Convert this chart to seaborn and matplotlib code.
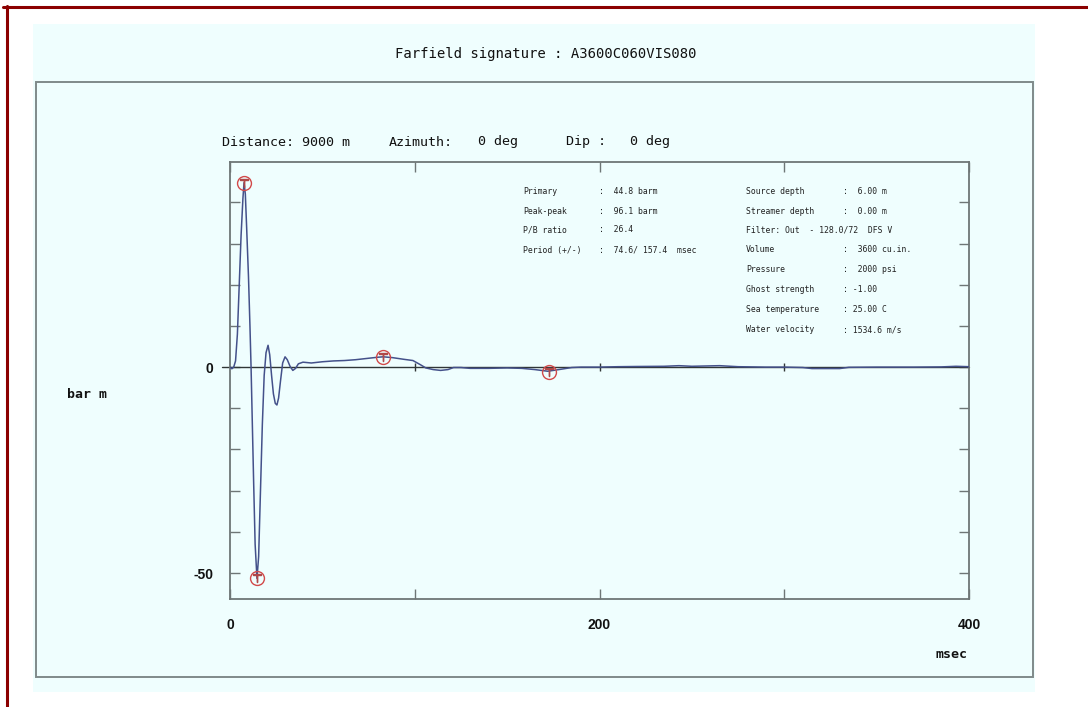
# Farfield signature plot
import pandas as pd
import numpy as np
import matplotlib
matplotlib.use("Agg")
import matplotlib.pyplot as plt
from matplotlib.patches import Rectangle
from matplotlib.lines import Line2D
import seaborn as sns

# Signature trace (msec, bar m)
t_ms = [0.0, 1.0, 2.0, 3.0, 4.0, 5.0, 6.0, 7.0, 7.6, 8.3, 9.0, 10.0, 10.8, 11.4,
        12.0, 12.8, 13.6, 14.6, 15.5, 16.5, 17.5, 18.5, 19.5, 20.6, 21.5, 22.5,
        23.5, 24.5, 25.4, 26.3, 27.3, 28.5, 29.8, 31.0, 32.5, 34.0, 35.5, 37.0,
        39.5, 44.0, 50.0, 56.0, 62.0, 68.0, 74.0, 80.0, 83.0, 88.0, 94.0, 99.0,
        103.0, 106.0, 110.0, 114.0, 118.0, 121.0, 125.0, 130.0, 140.0, 150.0,
        158.0, 165.0, 172.0, 178.0, 185.0, 190.0, 200.0, 210.0, 220.0, 235.0,
        243.0, 250.0, 265.0, 275.0, 290.0, 300.0, 310.0, 315.0, 330.0, 335.0,
        350.0, 370.0, 385.0, 393.0, 400.0]
amp = [0.0, -0.4, 0.0, 1.5, 8.0, 20.0, 32.0, 41.0, 44.8, 42.0, 34.0, 22.0, 10.0, 0.0,
       -12.0, -28.0, -43.0, -51.3, -46.0, -30.0, -14.0, -2.0, 3.5, 5.3, 3.0, -2.0,
       -6.5, -8.8, -9.2, -7.5, -3.5, 1.0, 2.5, 1.8, 0.2, -0.8, -0.3, 0.8,
       1.2, 1.0, 1.3, 1.5, 1.6, 1.8, 2.1, 2.4, 2.5, 2.3, 1.9, 1.6,
       0.6, -0.2, -0.6, -0.8, -0.6, -0.1, -0.1, -0.3, -0.3, -0.2,
       -0.3, -0.6, -1.0, -0.6, -0.1, 0.0, 0.0, 0.1, 0.15, 0.2,
       0.35, 0.2, 0.35, 0.1, 0.0, 0.0, -0.1, -0.35, -0.35, -0.05,
       0.0, 0.0, 0.05, 0.2, 0.1]

# picked points (primary, trough, bubble, negative bubble)
pick_t = [7.6, 14.6, 82.8, 172.5]
pick_amp = [44.8, -51.3, 2.4, -1.1]

x_ticks = [0, 100, 200, 300, 400]
x_tick_labels = ["0", "", "200", "", "400"]
y_ticks = [-50, -40, -30, -20, -10, 0, 10, 20, 30, 40]
y_tick_labels = ["-50", "", "", "", "", "0", "", "", "", ""]

title = "Farfield signature : A3600C060VIS080"
geometry_labels = ["Distance: 9000 m", "Azimuth:", "0 deg", "Dip :", "0 deg"]

info_left_labels = ["Primary", "Peak-peak", "P/B ratio", "Period (+/-)"]
info_left_values = [":  44.8 barm", ":  96.1 barm", ":  26.4", ":  74.6/ 157.4  msec"]
info_right_labels = ["Source depth", "Streamer depth", "Filter: Out  - 128.0/72  DFS V",
                     "Volume", "Pressure", "Ghost strength", "Sea temperature",
                     "Water velocity"]
info_right_values = [":  6.00 m", ":  0.00 m", "", ":  3600 cu.in.", ":  2000 psi",
                     ": -1.00", ": 25.00 C", ": 1534.6 m/s"]

df = pd.DataFrame({"msec": t_ms, "bar m": amp})

sns.set_style("white")
plt.rcParams["font.family"] = ["DejaVu Sans Mono", "DejaVu Sans"]

W, H = 1088, 707
fig = plt.figure(figsize=(W / 100, H / 100), dpi=100, facecolor="white")


def fx(x):
    return x / W


def fy(y):
    return 1 - y / H


# background panels and frame
fig.add_artist(Rectangle((fx(33), fy(692)), fx(1035) - fx(33), fy(24) - fy(692),
                         transform=fig.transFigure, facecolor="#effefe",
                         edgecolor="none", zorder=0))
fig.add_artist(Rectangle((fx(36), fy(677)), fx(1033) - fx(36), fy(82) - fy(677),
                         transform=fig.transFigure, facecolor="none",
                         edgecolor="#7f8a8a", linewidth=1.4, zorder=1))
fig.add_artist(Line2D([fx(3), 1], [fy(7), fy(7)], transform=fig.transFigure,
                      color="#8b0000", linewidth=2.2))
fig.add_artist(Line2D([fx(7), fx(7)], [0, fy(6)], transform=fig.transFigure,
                      color="#8b0000", linewidth=2.2))

ax = fig.add_axes([fx(230), fy(599), fx(969) - fx(230), fy(162) - fy(599)])
ax.set_facecolor("none")

spine_col = "#6e7676"
ax.axhline(0, xmin=-0.011, xmax=1, color="#303636", linewidth=1.0, clip_on=False, zorder=2)
ax.plot([100, 200, 300], [0, 0, 0], linestyle="none", marker="|", markersize=6,
        color="#303636", zorder=2)

sns.lineplot(data=df, x="msec", y="bar m", ax=ax, color="#44518a", linewidth=1.1,
             sort=False, estimator=None, zorder=3)
ax.plot(pick_t, pick_amp, linestyle="none", marker="o", markersize=10,
        markerfacecolor="none", markeredgecolor="#d24a4a", markeredgewidth=1.0, zorder=4)
ax.plot(pick_t, pick_amp, linestyle="none", marker="$\\top$", markersize=6,
        color="#b04848", zorder=4)

ax.set_xlim(0, 400)
ax.set_ylim(-56.3, 49.8)
ax.set_xticks(x_ticks)
ax.set_xticklabels(x_tick_labels)
ax.set_yticks(y_ticks)
ax.set_yticklabels(y_tick_labels)
ax.set_xlabel("")
ax.set_ylabel("")
ax.tick_params(direction="in", length=7, width=1, color=spine_col,
               top=True, right=True, bottom=True, left=True, labelcolor="#111111")
ax.tick_params(axis="x", pad=14)
ax.tick_params(axis="y", pad=12)
for lab in ax.get_xticklabels() + ax.get_yticklabels():
    lab.set_family(["Liberation Sans", "DejaVu Sans"])
    lab.set_fontweight("bold")
    lab.set_fontsize(10)
for s in ax.spines.values():
    s.set_color(spine_col)
    s.set_linewidth(1.3)

# titles
fig.text(fx(546), fy(54), title, ha="center", va="center", fontsize=10, color="#111111")
geo_x = [222, 389, 478, 566, 630]
for gx, g in zip(geo_x, geometry_labels):
    fig.text(fx(gx), fy(142), g, ha="left", va="center", fontsize=9.6, color="#111111")

fig.text(fx(87), fy(394), "bar m", ha="center", va="center", fontsize=9.5,
         fontweight="bold", color="#111111")
fig.text(fx(952), fy(654), "msec", ha="center", va="center", fontsize=9.5,
         fontweight="bold", color="#111111")

# info block
left_rows = [191, 211, 230, 250]
for yy, lab, val in zip(left_rows, info_left_labels, info_left_values):
    fig.text(fx(523), fy(yy), lab, ha="left", va="center", fontsize=5.9, color="#222222")
    fig.text(fx(599), fy(yy), val, ha="left", va="center", fontsize=5.9, color="#222222")
right_rows = [191, 211, 230, 250, 270, 290, 309, 330]
for yy, lab, val in zip(right_rows, info_right_labels, info_right_values):
    fig.text(fx(746), fy(yy), lab, ha="left", va="center", fontsize=5.9, color="#222222")
    if val:
        fig.text(fx(843), fy(yy), val, ha="left", va="center", fontsize=5.9, color="#222222")

fig.savefig("out.png", dpi=100, facecolor="white")
